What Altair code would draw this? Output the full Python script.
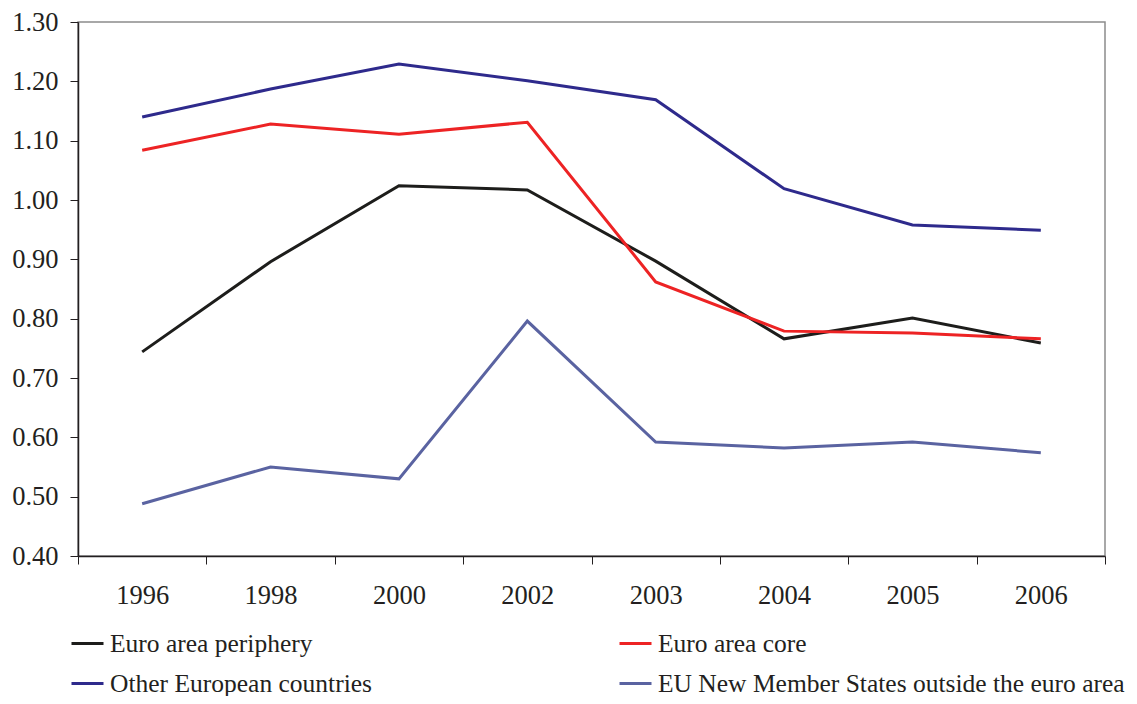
import altair as alt
import pandas as pd

years = ["1996", "1998", "2000", "2002", "2003", "2004", "2005", "2006"]
series = [
    "Euro area periphery",
    "Euro area core",
    "Other European countries",
    "EU New Member States outside the euro area",
]
periphery = [0.744, 0.896, 1.024, 1.017, 0.897, 0.766, 0.801, 0.759]
core = [1.084, 1.128, 1.111, 1.131, 0.862, 0.779, 0.776, 0.766]
other = [1.140, 1.187, 1.229, 1.201, 1.169, 1.019, 0.958, 0.949]
nms = [0.488, 0.550, 0.530, 0.796, 0.592, 0.582, 0.592, 0.574]
colors = ["#1d1d1b", "#ed2324", "#2e2a8c", "#5a63a1"]
y_ticks = [0.4, 0.5, 0.6, 0.7, 0.8, 0.9, 1.0, 1.1, 1.2, 1.3]

rows = []
for name, vals in zip(series, [periphery, core, other, nms]):
    for yr, v in zip(years, vals):
        rows.append({"year": yr, "series": name, "value": v, "k": series.index(name)})
df = pd.DataFrame(rows)

# legend fills column by column: left column periphery/other, right column core/NMS
legend_order = [series[0], series[2], series[1], series[3]]
legend_colors = [colors[0], colors[2], colors[1], colors[3]]

FONT = "Liberation Serif"
TXT = "#231f20"

chart = (
    alt.Chart(df)
    .mark_line(strokeWidth=3)
    .encode(
        x=alt.X(
            "year:N",
            sort=years,
            scale=alt.Scale(type="band", paddingInner=0, paddingOuter=0),
            bandPosition=0.5,
            axis=alt.Axis(
                title=None,
                tickBand="extent",
                labelAngle=0,
                grid=False,
                tickSize=8,
                tickColor=TXT,
                tickWidth=1,
                domainColor=TXT,
                domainWidth=1.5,
                labelFont=FONT,
                labelFontSize=26.5,
                labelColor=TXT,
                labelPadding=18,
            ),
        ),
        y=alt.Y(
            "value:Q",
            scale=alt.Scale(domain=[0.4, 1.3], nice=False, zero=False),
            axis=alt.Axis(
                title=None,
                values=y_ticks,
                format=".2f",
                grid=False,
                tickSize=8,
                tickColor=TXT,
                tickWidth=1,
                domainColor=TXT,
                domainWidth=1.5,
                labelFont=FONT,
                labelFontSize=26.5,
                labelColor=TXT,
                labelPadding=12,
            ),
        ),
        color=alt.Color(
            "series:N",
            sort=legend_order,
            scale=alt.Scale(domain=legend_order, range=legend_colors),
            legend=alt.Legend(
                title=None,
                orient="none",
                legendX=-8,
                legendY=604,
                columns=2,
                columnPadding=241,
                rowPadding=9,
                padding=0,
                symbolType="stroke",
                symbolSize=1024,
                symbolStrokeWidth=3,
                labelFont=FONT,
                labelFontSize=25.5,
                labelColor=TXT,
                labelLimit=800,
                labelOffset=5,
            ),
        ),
        order=alt.Order("k:Q"),
        detail="series:N",
    )
    .properties(
        width=1027,
        height=534,
        autosize=alt.AutoSizeParams(type="none"),
        padding={"left": 70, "top": 14, "right": 24, "bottom": 140},
        background="white",
    )
    .configure_view(stroke="#8c8c8c", strokeWidth=1.5)
)

chart.save("out.html", embed_options={"renderer": "svg", "actions": False})
